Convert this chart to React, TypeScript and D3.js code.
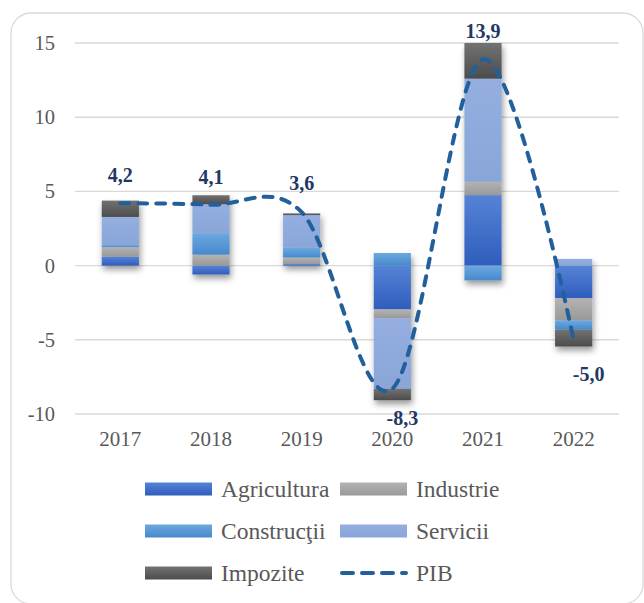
import React from 'react';
import * as d3 from 'd3';

const categories = ['2017', '2018', '2019', '2020', '2021', '2022'];
const agricultura = [0.6, -0.6, 0.1, -2.95, 4.75, -2.2];
const industrie = [0.65, 0.74, 0.45, -0.6, 0.9, -1.5];
const constructii = [0.13, 1.44, 0.65, 0.85, -1.0, -0.62];
const servicii = [1.9, 1.96, 2.2, -4.75, 6.95, 0.45];
const impozite = [1.1, 0.6, 0.12, -0.77, 2.4, -1.13];
const pib = [4.2, 4.1, 3.6, -8.3, 13.9, -5.0];
const pibLabels = ['4,2', '4,1', '3,6', '-8,3', '13,9', '-5,0'];
const yTicks = [-10, -5, 0, 5, 10, 15];

const seriesNames = ['Agricultura', 'Industrie', 'Construcţii', 'Servicii', 'Impozite'];
const seriesValues = [agricultura, industrie, constructii, servicii, impozite];

// styling (kept apart from the data)
const seriesGradients = [
  ['#5583D6', '#2F5DBD'],
  ['#B3B3B3', '#999999'],
  ['#6CA8E0', '#4689CC'],
  ['#93AEDF', '#8AA5D8'],
  ['#727272', '#4C4C4C'],
];
const labelOffsets: [number, number][] = [
  [0, -21], [0, -21], [0, -22], [10, 36], [0, -21], [15, 41],
];

const W = 644;
const H = 603;
const plot = { left: 75, right: 619, top: 43, bottom: 414 };
const FONT = 'Liberation Serif, Times New Roman, serif';

export default function App() {
  const x = d3.scaleBand<string>().domain(categories).range([plot.left, plot.right]).padding(0);
  const y = d3.scaleLinear().domain([-10, 15]).range([plot.bottom, plot.top]);
  const barW = x.bandwidth() * 0.41;
  const cx = (c: string) => (x(c) as number) + x.bandwidth() / 2;

  const table = categories.map((c, i) => {
    const row: any = { cat: c };
    seriesNames.forEach((s, k) => (row[s] = seriesValues[k][i]));
    return row;
  });
  const stacked = d3
    .stack<any>()
    .keys(seriesNames)
    .order(d3.stackOrderNone)
    .offset(d3.stackOffsetDiverging)(table);

  const line = d3
    .line<number>()
    .x((_, i) => cx(categories[i]))
    .y((d) => y(d))
    .curve(d3.curveCardinal.tension(0));

  const legendItems = [...seriesNames, 'PIB'];
  const legendCols = [145, 340];
  const legendRows = [489, 531, 573];

  return (
    <div style={{ position: 'absolute', left: 0, top: 0 }}>
      <svg width={W} height={H} style={{ display: 'block', background: '#fff', fontFamily: FONT }}>
        <defs>
          {seriesGradients.map((g, k) => (
            <linearGradient key={k} id={`grad${k}`} x1="0" y1="0" x2="0" y2="1">
              <stop offset="0%" stopColor={g[0]} />
              <stop offset="100%" stopColor={g[1]} />
            </linearGradient>
          ))}
          <filter id="shadow" x="-30%" y="-30%" width="160%" height="160%">
            <feDropShadow dx="1.5" dy="4" stdDeviation="3" floodColor="#000" floodOpacity="0.4" />
          </filter>
        </defs>
        <rect x={11} y={13} width={632} height={591} rx={20} ry={20} fill="#fff" stroke="#D9D9D9" strokeWidth={1.3} />

        {yTicks.map((t) => (
          <g key={t}>
            <line x1={plot.left} x2={plot.right} y1={y(t)} y2={y(t)} stroke="#D9D9D9" strokeWidth={1.4} />
            <text x={55} y={y(t) + 7} textAnchor="end" fontFamily={FONT} fontSize={20.5} fill="#595959">
              {t}
            </text>
          </g>
        ))}

        {categories.map((c, i) => (
          <g key={c} filter="url(#shadow)">
            {stacked.map((s, k) => {
              const d = s[i];
              const y0 = y(d[0]);
              const y1 = y(d[1]);
              const top = Math.min(y0, y1);
              const h = Math.abs(y1 - y0);
              if (h < 0.01) return null;
              return (
                <rect key={k} x={cx(c) - barW / 2} y={top} width={barW} height={h} fill={`url(#grad${k})`} />
              );
            })}
          </g>
        ))}

        <path
          d={line(pib) || ''}
          fill="none"
          stroke="#22609C"
          strokeWidth={4}
          strokeDasharray="9 9"
          strokeLinecap="round"
        />

        {pib.map((v, i) => (
          <text
            key={i}
            x={cx(categories[i]) + labelOffsets[i][0]}
            y={y(v) + labelOffsets[i][1]}
            textAnchor="middle"
            fontFamily={FONT}
            fontSize={20}
            fontWeight="bold"
            fill="#1F3864"
          >
            {pibLabels[i]}
          </text>
        ))}

        {categories.map((c) => (
          <text key={c} x={cx(c)} y={446} textAnchor="middle" fontFamily={FONT} fontSize={21} fill="#595959">
            {c}
          </text>
        ))}

        {legendItems.map((name, k) => {
          const col = legendCols[k % 2];
          const row = legendRows[Math.floor(k / 2)];
          return (
            <g key={name}>
              {k < seriesNames.length ? (
                <rect x={col} y={row - 6.5} width={67} height={13} fill={`url(#grad${k})`} />
              ) : (
                <line
                  x1={col + 2}
                  x2={col + 66}
                  y1={row}
                  y2={row}
                  stroke="#22609C"
                  strokeWidth={4}
                  strokeDasharray="11 9"
                  strokeLinecap="round"
                />
              )}
              <text x={col + 76} y={row + 7.5} fontFamily={FONT} fontSize={23.5} fill="#595959">
                {name}
              </text>
            </g>
          );
        })}
      </svg>
    </div>
  );
}
